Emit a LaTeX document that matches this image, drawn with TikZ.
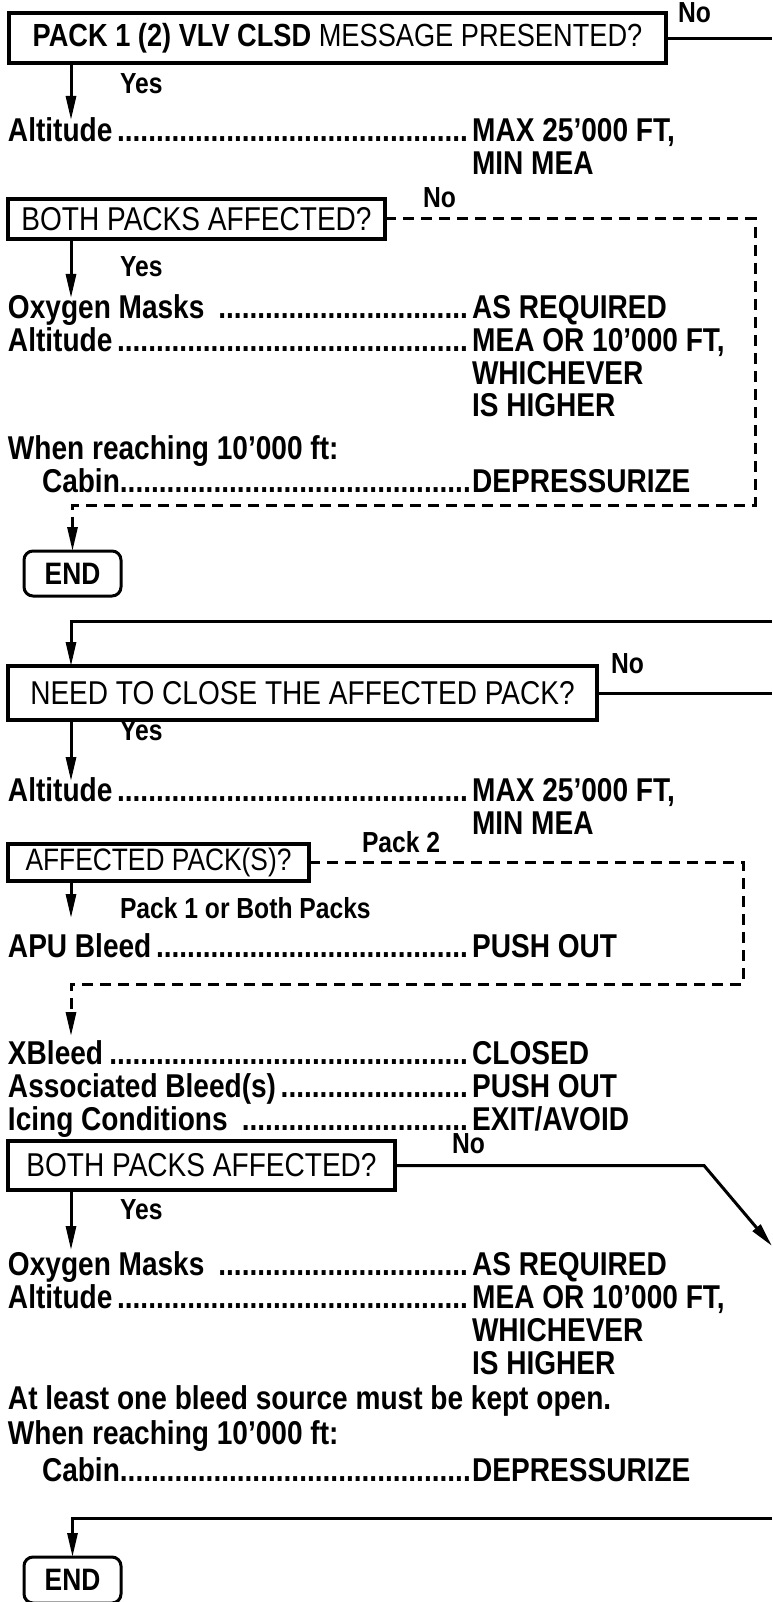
\documentclass[tikz,border=0pt]{standalone}
\usepackage{fontspec}
\setmainfont{Liberation Sans}[FakeStretch=0.85]
\usetikzlibrary{arrows.meta}
\newcommand{\dl}{\leaders\hbox{.}\hfill}
\newcommand{\lrow}[3]{\hbox to #1{#2\dl}#3}
\begin{document}
\begin{tikzpicture}[x=1pt,y=-1pt,
  every node/.style={inner sep=0pt, outer sep=0pt},
  body/.style={anchor=base west, font=\fontsize{33}{38}\selectfont\bfseries},
  lbl/.style={anchor=base west, font=\fontsize{29}{33}\selectfont\bfseries},
  qbox/.style={draw, line width=4pt, font=\fontsize{33}{38}\selectfont, align=center},
  endbox/.style={draw, line width=3pt, rounded corners=9pt, minimum width=97pt, minimum height=45pt, font=\fontsize{31}{34}\selectfont\bfseries},
  conn/.style={line width=3pt},
  arr/.style={conn, -{Triangle[length=24pt,width=10pt]}},
  dconn/.style={line width=3pt, dash pattern=on 11pt off 7pt},
  darr/.style={dconn, -{Triangle[length=24pt,width=10pt]}}
]
\useasboundingbox (0,0) rectangle (772,1602);

% ---------------- Section 1 ----------------
\node[qbox, minimum width=657pt, minimum height=50pt, font=\fontsize{32}{36}\selectfont] (b1) at (337.5,38.5)
  {\textbf{PACK 1 (2) VLV CLSD} MESSAGE PRESENTED?};
\node[lbl] (no1) at (678,23) {No};
\coordinate (e1) at (772,38.5);
\draw[conn] (b1.east) -- (e1);

\coordinate (t1) at (71,120);
\draw[arr] (b1.south -| t1) -- (t1);
\node[lbl] (yes1) at (120,94) {Yes};

\node[body] (r1) at (8,142) {\lrow{464pt}{Altitude}{MAX 25’000 FT,}};
\node[body] (r1b) at (472,175) {MIN MEA};

\node[qbox, minimum width=377pt, minimum height=40pt] (b2) at (196.5,219)
  {BOTH PACKS AFFECTED?};
\node[lbl] (no2) at (423,208) {No};

\coordinate (t2) at (71,298);
\draw[arr] (b2.south -| t2) -- (t2);
\node[lbl] (yes2) at (120,277) {Yes};

\node[body] (r2) at (8,318) {\lrow{464pt}{Oxygen Masks }{AS REQUIRED}};
\node[body] (r3) at (8,351) {\lrow{464pt}{Altitude}{MEA OR 10’000 FT,}};
\node[body] (r3b) at (472,384) {WHICHEVER};
\node[body] (r3c) at (472,416) {IS HIGHER};
\node[body] (r4) at (8,459) {When reaching 10’000 ft:};
\node[body] (r5) at (42,492) {\lrow{430pt}{Cabin}{DEPRESSURIZE}};

\node[endbox] (end1) at (72.5,573.5) {END};
\coordinate (d1) at (755,219);
\coordinate (d2) at (755,505);
\draw[darr] (b2.east) -- (d1) -- (d2) -- (d2 -| end1) -- (end1.north);

% ---------------- Section 2 ----------------
\node[qbox, minimum width=589pt, minimum height=54pt] (b3) at (302.5,693)
  {NEED TO CLOSE THE AFFECTED PACK?};
\coordinate (s3) at (772,621);
\draw[arr] (s3) -- (s3 -| 71,0) -- (b3.north -| 71,0);
\node[lbl] (no3) at (611,673) {No};
\coordinate (e3) at (772,693);
\draw[conn] (b3.east) -- (e3);

\coordinate (t3) at (71,781);
\draw[arr] (b3.south -| t3) -- (t3);
\node[lbl] (yes3) at (120,740) {Yes};

\node[body] (r6) at (8,801) {\lrow{464pt}{Altitude}{MAX 25’000 FT,}};
\node[body] (r6b) at (472,834) {MIN MEA};

\node[qbox, minimum width=301pt, minimum height=37pt, font=\fontsize{31}{35}\selectfont] (b4) at (158.5,862)
  {AFFECTED PACK(S)?};
\node[lbl] (p2) at (362,852) {Pack 2};

\coordinate (t4) at (71,918);
\draw[arr] (b4.south -| t4) -- (t4);
\node[lbl] (p1) at (120,918) {Pack 1 or Both Packs};

\node[body] (r7) at (8,957) {\lrow{464pt}{APU Bleed}{PUSH OUT}};

\coordinate (d3) at (743,862);
\coordinate (d4) at (743,984);
\coordinate (t5) at (71,1036);
\draw[darr] (b4.east) -- (d3) -- (d4) -- (d4 -| t5) -- (t5);

\node[body] (r8) at (8,1064) {\lrow{464pt}{XBleed}{CLOSED}};
\node[body] (r9) at (8,1097) {\lrow{464pt}{Associated Bleed(s)}{PUSH OUT}};
\node[body] (r10) at (8,1130) {\lrow{464pt}{Icing Conditions }{EXIT/AVOID}};

\node[qbox, minimum width=387pt, minimum height=49pt] (b5) at (201.5,1165.5)
  {BOTH PACKS AFFECTED?};
\node[lbl] (no5) at (452,1153) {No};
\coordinate (c5) at (704,1165.5);
\coordinate (e5) at (772,1246);
\draw[arr] (b5.east) -- (c5) -- (e5);

\coordinate (t6) at (71,1250);
\draw[arr] (b5.south -| t6) -- (t6);
\node[lbl] (yes5) at (120,1219) {Yes};

\node[body] (r11) at (8,1275) {\lrow{464pt}{Oxygen Masks }{AS REQUIRED}};
\node[body] (r12) at (8,1308) {\lrow{464pt}{Altitude}{MEA OR 10’000 FT,}};
\node[body] (r12b) at (472,1341) {WHICHEVER};
\node[body] (r12c) at (472,1374) {IS HIGHER};
\node[body] (r13) at (8,1409) {At least one bleed source must be kept open.};
\node[body] (r14) at (8,1444) {When reaching 10’000 ft:};
\node[body] (r15) at (42,1481) {\lrow{430pt}{Cabin}{DEPRESSURIZE}};

\node[endbox, minimum height=46pt] (end2) at (72.5,1580) {END};
\coordinate (s4) at (772,1518);
\draw[arr] (s4) -- (s4 -| end2) -- (end2.north);
\end{tikzpicture}
\end{document}
